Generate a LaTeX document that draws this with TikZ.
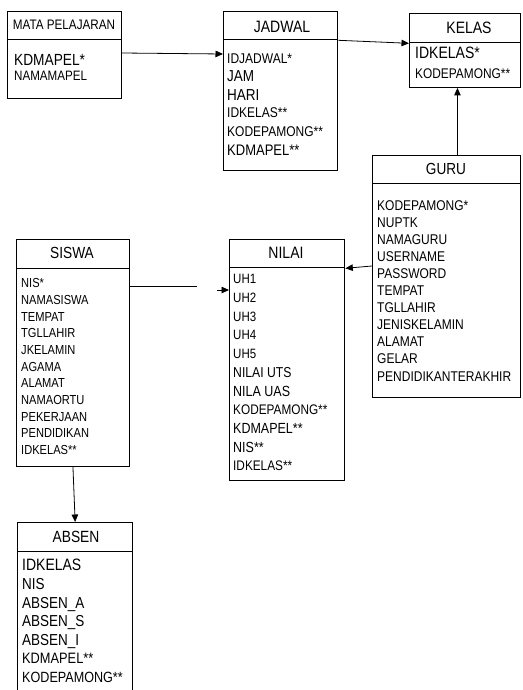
\documentclass[tikz,border=0pt]{standalone}
\usepackage{fontspec}
\setmainfont[FakeStretch=0.85]{Liberation Sans}
\usetikzlibrary{arrows.meta}
\newcommand\fsz[1]{\pgfmathsetmacro\fszv{#1/0.85}\fontsize{\fszv}{\fszv}\selectfont}
\begin{document}
\begin{tikzpicture}[x=1pt,y=-1pt,
  box/.style={draw, line width=0.9pt, inner sep=0pt, anchor=north west},
  hbox/.style={box, line width=1.3pt},
  ttl/.style={anchor=base, inner sep=0pt},
  row/.style={anchor=base west, inner sep=0pt},
  arr/.style={-{Triangle[length=7.5pt,width=6.5pt]}, line width=0.8pt},
  ln/.style={line width=0.8pt}]
\useasboundingbox (0,0) rectangle (522,690);

% MATA PELAJARAN
\node[hbox, minimum width=114pt, minimum height=28pt] (matah) at (7,11) {};
\node[box, minimum width=114pt, minimum height=59pt] (matab) at (7,39) {};
\node[ttl, font=\fsz{11.7}] (matat) at (64,{25+0.421*11.7}) {MATA PELAJARAN};
\node[row, font=\fsz{13.7}] (mata1) at (14,{60+0.421*13.7}) {KDMAPEL*};
\node[row, font=\fsz{11.6}] (mata2) at (14,{76+0.421*11.6}) {NAMAMAPEL};

% JADWAL
\node[hbox, minimum width=114pt, minimum height=28pt] (jadwalh) at (223,11) {};
\node[box, minimum width=114pt, minimum height=131pt] (jadwalb) at (223,39) {};
\node[ttl, font=\fsz{14}] (jadwalt) at (282,{27+0.421*14}) {JADWAL};
\foreach \t/\s/\y [count=\i] in {IDJADWAL*/12/58, JAM/13.5/76, HARI/13.5/95, IDKELAS**/12/112, KODEPAMONG**/12/131, KDMAPEL**/13/150}
  \node[row, font=\fsz{\s}] (jad\i) at (227,{\y+0.421*\s}) {\t};

% KELAS
\node[hbox, minimum width=111pt, minimum height=29pt] (kelash) at (409,13) {};
\node[box, minimum width=111pt, minimum height=45pt] (kelasb) at (409,42) {};
\node[ttl, font=\fsz{14}] (kelast) at (469,{28+0.421*14}) {KELAS};
\node[row, font=\fsz{14}] (kel1) at (415,{53+0.421*14}) {IDKELAS*};
\node[row, font=\fsz{11.9}] (kel2) at (415,{73+0.421*11.9}) {KODEPAMONG**};

% GURU
\node[box, minimum width=148pt, minimum height=28pt] (guruh) at (372,155) {};
\node[box, minimum width=148pt, minimum height=214pt] (gurub) at (372,183) {};
\node[ttl, font=\fsz{13.6}] (gurut) at (446,{169+0.421*13.6}) {GURU};
\foreach \t [count=\i] in {KODEPAMONG*, NUPTK, NAMAGURU, USERNAME, PASSWORD, TEMPAT, TGLLAHIR, JENISKELAMIN, ALAMAT, GELAR, PENDIDIKANTERAKHIR}
  \node[row, font=\fsz{12}] (guru\i) at (377,{205+(\i-1)*17.1+0.421*12}) {\t};

% NILAI
\node[hbox, minimum width=115pt, minimum height=28pt] (nilaih) at (229,239) {};
\node[box, minimum width=115pt, minimum height=213pt] (nilaib) at (229,267) {};
\node[ttl, font=\fsz{14}] (nilait) at (286,{253+0.421*14}) {NILAI};
\foreach \t/\s [count=\i] in {UH1/11.5, UH2/11.5, UH3/11.5, UH4/11.5, UH5/11.5, NILAI UTS/12.2, NILA UAS/12.5, KODEPAMONG**/11.8, KDMAPEL**/12.5, NIS**/12.5, IDKELAS**/11.8}
  \node[row, font=\fsz{\s}] (nil\i) at (233,{279+(\i-1)*18.7+0.421*\s}) {\t};

% SISWA
\node[box, minimum width=113pt, minimum height=29pt] (siswah) at (16,239) {};
\node[box, minimum width=113pt, minimum height=198pt] (siswab) at (16,268) {};
\node[ttl, font=\fsz{13.7}] (siswat) at (72,{253+0.421*13.7}) {SISWA};
\foreach \t [count=\i] in {NIS*, NAMASISWA, TEMPAT, TGLLAHIR, JKELAMIN, AGAMA, ALAMAT, NAMAORTU, PEKERJAAN, PENDIDIKAN, IDKELAS**}
  \node[row, font=\fsz{11.1}] (sis\i) at (21,{283+(\i-1)*16.7+0.421*11.1}) {\t};

% ABSEN
\node[hbox, minimum width=115pt, minimum height=29pt] (absenh) at (17,522) {};
\node[box, minimum width=115pt, minimum height=180pt] (absenb) at (17,551) {};
\node[ttl, font=\fsz{13.8}] (absent) at (76,{537+0.421*13.8}) {ABSEN};
\foreach \t/\s [count=\i] in {IDKELAS/14, NIS/13.5, ABSEN\_A/13.5, ABSEN\_S/13.5, ABSEN\_I/13.5, KDMAPEL**/12.8, KODEPAMONG**/12.6}
  \node[row, font=\fsz{\s}] (abs\i) at (22,{565+(\i-1)*18.7+0.421*\s}) {\t};

% connectors
\draw[arr] ([yshift=-14pt]matab.north east) -- ([yshift=-15pt]jadwalb.north west);
\draw[arr] (jadwalh.south east) -- (kelash.south west);
\draw[arr] ([xshift=11pt]guruh.north) -- ([xshift=11pt]guruh.north |- kelasb.south);
\draw[arr] ([yshift=-83pt]gurub.north west) -- (nilaih.south east);
\coordinate (gapA) at (197,286);
\coordinate (gapB) at (217,290);
\draw[ln] ([yshift=-18pt]siswab.north east) -- (gapA);
\draw[arr] (gapB) -- (gapB -| nilaib.west);
\draw[arr] (siswab.south) -- (absenh.north);
\end{tikzpicture}
\end{document}
